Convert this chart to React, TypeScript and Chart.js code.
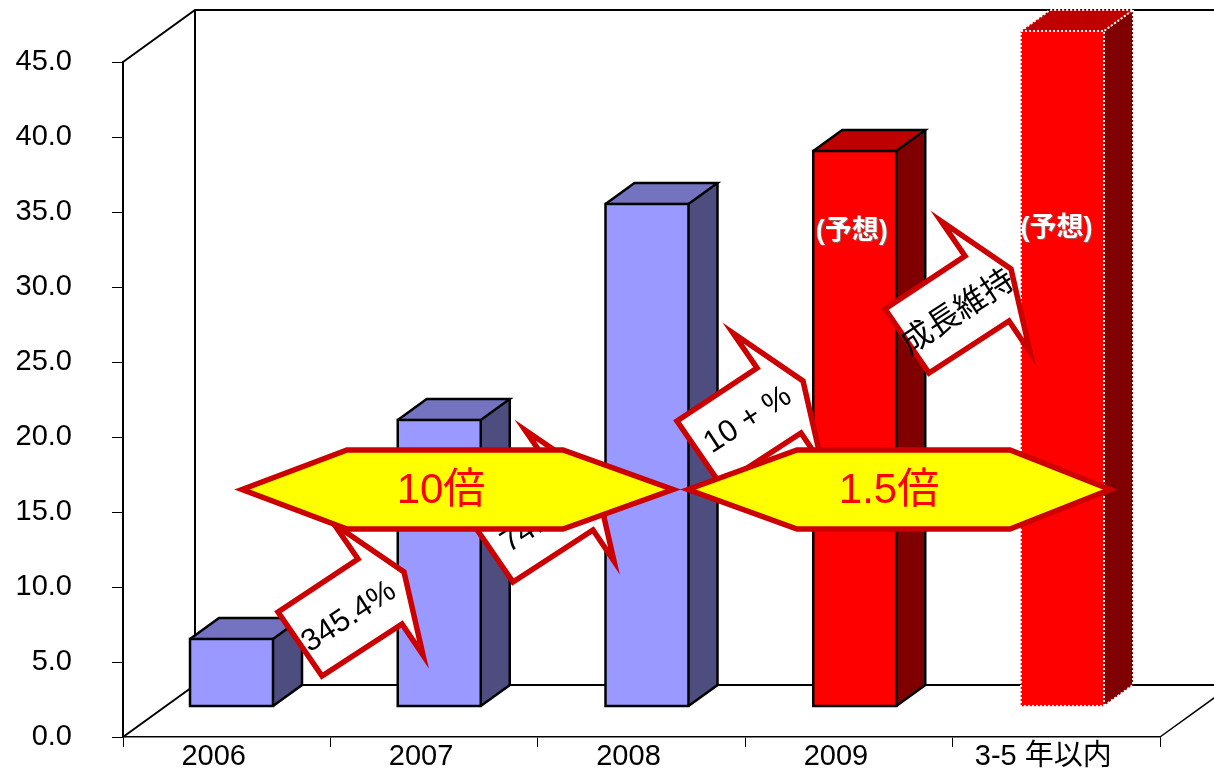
import React, { useEffect, useRef } from "react";
import { Chart, registerables } from "chart.js";

Chart.register(...registerables);

const categories = ["2006", "2007", "2008", "2009", "3-5 年以内"];
const yTicks = [0, 5, 10, 15, 20, 25, 30, 35, 40, 45];
const values = [4.47, 19.07, 33.47, 37.0, 45.0];
const forecastFlags = [false, false, false, true, true];
const forecastLabel = "(予想)";
const growthLabels = ["345.4%", "74.4%", "10 + %", "成長維持"];
const multipleLabels = ["10倍", "1.5倍"];

const LATIN = '"Liberation Sans", Arial, sans-serif';
const CJK = '"Liberation Sans", "Noto Sans CJK JP", sans-serif';
const STROKE_RED = "#CC0000";

const WALL = { dx: 72, dy: -52 };
const BAR_DEPTH = { dx: 29, dy: -21 };

const CALLOUT_SHAPE: [number, number][] = [
  [885, 309], [965, 256], [941, 221], [1011, 269], [1030, 352], [1009, 321], [929, 373],
];

function polygon(ctx: CanvasRenderingContext2D, pts: [number, number][]) {
  ctx.beginPath();
  pts.forEach(([x, y], i) => (i ? ctx.lineTo(x, y) : ctx.moveTo(x, y)));
  ctx.closePath();
}

const wallsPlugin = {
  id: "walls",
  beforeDatasetsDraw(chart: any) {
    const { ctx, chartArea: a } = chart;
    ctx.save();
    ctx.strokeStyle = "#000";
    ctx.lineWidth = 2;
    ctx.lineJoin = "miter";
    const bx = a.left + WALL.dx;
    const byTop = a.top + WALL.dy;
    const byBot = a.bottom + WALL.dy;
    ctx.beginPath();
    ctx.moveTo(a.left, a.top);
    ctx.lineTo(bx, byTop);
    ctx.lineTo(chart.width + 5, byTop);
    ctx.moveTo(bx, byTop);
    ctx.lineTo(bx, byBot);
    ctx.lineTo(chart.width + 5, byBot);
    ctx.moveTo(a.left, a.bottom);
    ctx.lineTo(bx, byBot);
    ctx.stroke();
    ctx.lineWidth = 1.5;
    ctx.beginPath();
    ctx.moveTo(a.right, a.bottom);
    ctx.lineTo(a.right + WALL.dx, byBot);
    ctx.stroke();

    // side and top faces of the bars, from the library's own bar elements
    const meta = chart.getDatasetMeta(0);
    meta.data.forEach((bar: any, i: number) => {
      const p = bar.getProps(["x", "y", "base", "width"], true);
      const l = p.x - p.width / 2;
      const r = p.x + p.width / 2;
      const fc = forecastFlags[i];
      ctx.fillStyle = fc ? "#800000" : "#4D4D80";
      polygon(ctx, [[r, p.y], [r + BAR_DEPTH.dx, p.y + BAR_DEPTH.dy], [r + BAR_DEPTH.dx, p.base + BAR_DEPTH.dy], [r, p.base]]);
      ctx.fill();
      ctx.fillStyle = fc ? "#BF0000" : "#7373BF";
      polygon(ctx, [[l, p.y], [l + BAR_DEPTH.dx, p.y + BAR_DEPTH.dy], [r + BAR_DEPTH.dx, p.y + BAR_DEPTH.dy], [r, p.y]]);
      ctx.fill();
    });
    ctx.restore();
  },
  afterDatasetsDraw(chart: any) {
    const { ctx } = chart;
    const meta = chart.getDatasetMeta(0);
    ctx.save();
    meta.data.forEach((bar: any, i: number) => {
      const p = bar.getProps(["x", "y", "base", "width"], true);
      const l = p.x - p.width / 2;
      const r = p.x + p.width / 2;
      const d = BAR_DEPTH;
      const dotted = i === meta.data.length - 1;
      ctx.strokeStyle = dotted ? "#FFF" : "#000";
      ctx.lineWidth = dotted ? 2 : 2.5;
      ctx.setLineDash(dotted ? [2, 2] : []);
      ctx.lineJoin = "miter";
      ctx.strokeRect(l, p.y, p.width, p.base - p.y);
      ctx.beginPath();
      ctx.moveTo(l, p.y);
      ctx.lineTo(l + d.dx, p.y + d.dy);
      ctx.lineTo(r + d.dx, p.y + d.dy);
      ctx.lineTo(r, p.y);
      ctx.moveTo(r + d.dx, p.y + d.dy);
      ctx.lineTo(r + d.dx, p.base + d.dy);
      ctx.lineTo(r, p.base);
      ctx.stroke();
      ctx.setLineDash([]);
      if (forecastFlags[i]) {
        ctx.save();
        ctx.font = `bold 27px ${CJK}`;
        ctx.fillStyle = "#FFF";
        ctx.shadowColor = "rgba(120,120,120,0.8)";
        ctx.shadowOffsetX = 1;
        ctx.shadowOffsetY = 1;
        ctx.textAlign = "center";
        ctx.textBaseline = "middle";
        ctx.fillText(forecastLabel, p.x - 3 + (i === 4 ? -3 : 0), i === 4 ? 229 : 232);
        ctx.restore();
      }
    });
    ctx.restore();
    drawAnnotations(ctx);
  },
};

function drawAnnotations(ctx: CanvasRenderingContext2D) {
  const offsets: [number, number, number, number][] = [
    [-607, 303, 349, 617],
    [-416, 209, 541, 522],
    [-208, 112, 748, 420],
    [0, 0, 958, 313],
  ];
  const fonts = [`31px ${LATIN}`, `31px ${LATIN}`, `31px ${LATIN}`, `32px ${CJK}`];
  ctx.save();
  offsets.forEach(([dx, dy, tx, ty], i) => {
    ctx.fillStyle = "#FFF";
    ctx.strokeStyle = STROKE_RED;
    ctx.lineWidth = 5.5;
    ctx.lineJoin = "miter";
    ctx.miterLimit = 10;
    polygon(ctx, CALLOUT_SHAPE.map(([x, y]) => [x + dx, y + dy] as [number, number]));
    ctx.fill();
    ctx.stroke();
    ctx.save();
    ctx.translate(tx, ty);
    ctx.rotate((-33 * Math.PI) / 180);
    ctx.font = fonts[i];
    ctx.fillStyle = "#000";
    ctx.textAlign = "center";
    ctx.textBaseline = "middle";
    ctx.fillText(growthLabels[i], 0, 0);
    ctx.restore();
  });

  const hexes: [number, number, number, number, number][] = [
    [242, 347, 563, 673, 441],
    [688, 797, 1010, 1110, 889],
  ];
  hexes.forEach(([t1, c1, c2, t2, tx], i) => {
    ctx.fillStyle = "#FFFF00";
    ctx.strokeStyle = STROKE_RED;
    ctx.lineWidth = 5.5;
    ctx.miterLimit = 10;
    polygon(ctx, [[t1, 489.5], [c1, 450], [c2, 450], [t2, 489.5], [c2, 529], [c1, 529]]);
    ctx.fill();
    ctx.stroke();
    ctx.font = `42px ${CJK}`;
    ctx.fillStyle = "#FF0000";
    ctx.textAlign = "center";
    ctx.textBaseline = "middle";
    ctx.fillText(multipleLabels[i], tx, 491);
  });
  ctx.restore();
}

export default function App() {
  const ref = useRef<HTMLCanvasElement | null>(null);
  useEffect(() => {
    document.body.style.margin = "0";
    document.body.style.background = "#fff";
    const chart = new Chart(ref.current as HTMLCanvasElement, {
      type: "bar",
      data: {
        labels: categories,
        datasets: [
          {
            data: values.map((y, i) => ({ x: i, y })),
            xAxisID: "xBar",
            yAxisID: "yBar",
            backgroundColor: forecastFlags.map((f) => (f ? "#FF0000" : "#9999FF")),
            borderWidth: 0,
            barThickness: 83,
            clip: false as any,
            grouped: false,
          } as any,
        ],
      },
      plugins: [wallsPlugin],
      options: {
        animation: false,
        responsive: false,
        devicePixelRatio: 1,
        layout: { autoPadding: false, padding: { top: 62, right: 54, left: 0, bottom: 0 } },
        plugins: { legend: { display: false }, tooltip: { enabled: false } },
        scales: {
          x: {
            type: "category",
            position: "bottom",
            offset: true,
            grid: { drawOnChartArea: false, tickLength: 10, color: "#000", lineWidth: 1, offset: true },
            border: { color: "#000", width: 1.5 },
            ticks: {
              maxRotation: 0,
              autoSkip: false,
              padding: -7,
              labelOffset: -13,
              color: "#000",
              font: { family: CJK, size: 29 },
            },
            afterFit(s: any) {
              s.height = 33;
            },
          },
          y: {
            type: "linear",
            position: "left",
            min: 0,
            max: 45,
            afterBuildTicks(s: any) {
              s.ticks = yTicks.map((value) => ({ value }));
            },
            grid: { drawOnChartArea: false, tickLength: 11, color: "#000", lineWidth: 1 },
            border: { color: "#000", width: 2 },
            ticks: {
              padding: 40,
              labelOffset: 0,
              color: "#000",
              font: { family: LATIN, size: 29 },
              callback: (v: any) => Number(v).toFixed(1),
            },
            afterFit(s: any) {
              s.width = 123;
              s.paddingTop = 0;
              s.paddingBottom = 0;
            },
          },
          xBar: {
            type: "linear",
            display: false,
            offset: false,
            min: (123 - 231.5) / 207.75,
            max: (1160 - 231.5) / 207.75,
          },
          yBar: {
            type: "linear",
            display: false,
            min: -31 / 15,
            max: 45 - 31 / 15,
          },
        },
      } as any,
    });
    return () => chart.destroy();
  }, []);
  return (
    <canvas
      ref={ref}
      width={1214}
      height={770}
      style={{ display: "block", width: 1214, height: 770 }}
    />
  );
}
